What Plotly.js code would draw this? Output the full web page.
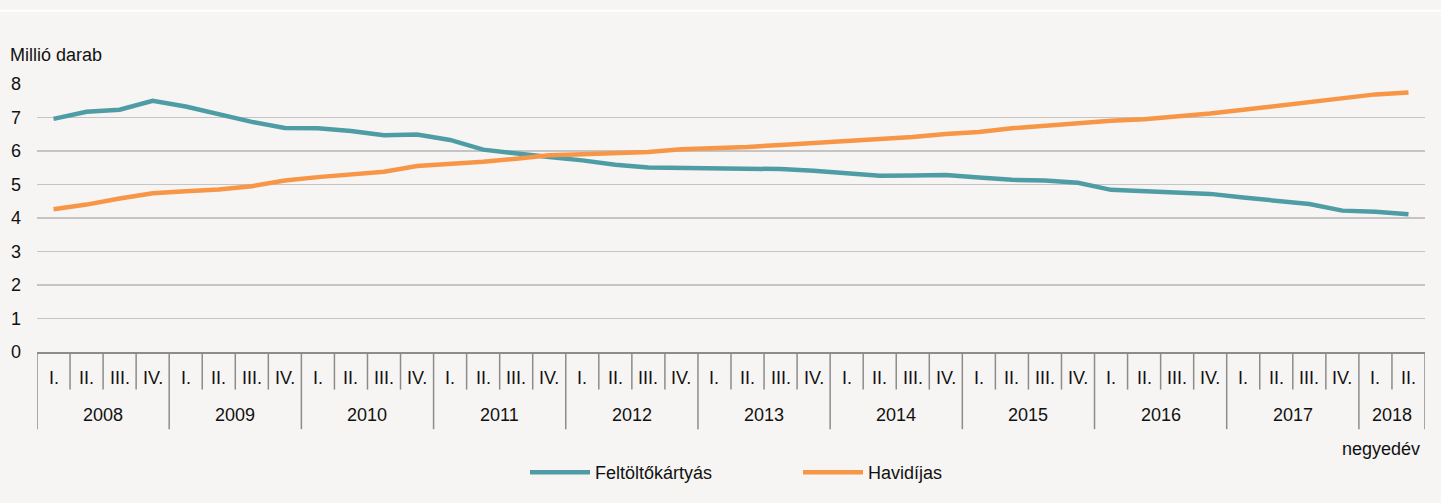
<!DOCTYPE html>
<html>
<head>
<meta charset="utf-8">
<script src="https://cdn.plot.ly/plotly-3.0.1.min.js"></script>
<style>
html,body{margin:0;padding:0;background:#f6f5f3;}
#chart{width:1441px;height:503px;}
</style>
</head>
<body>
<div id="chart"></div>
<script>
const years = ['2008','2009','2010','2011','2012','2013','2014','2015','2016','2017','2018'];
const quarterLabels = ['I.','II.','III.','IV.'];
const quartersPerYear = [4,4,4,4,4,4,4,4,4,4,2];

const feltoltokartyas = [6.96,7.17,7.23,7.50,7.33,7.09,6.87,6.69,6.68,6.60,6.47,6.49,6.33,6.04,
  5.92,5.82,5.72,5.59,5.51,5.50,5.49,5.45,5.46,5.41,5.32,5.26,5.27,
  5.28,5.21,5.14,5.12,5.05,4.84,4.79,4.75,4.72,4.61,4.52,4.42,4.22,4.19,4.11];
const havidijas = [4.26,4.40,4.58,4.74,4.80,4.85,4.95,5.12,5.22,5.29,5.38,5.55,5.61,5.68,
  5.77,5.87,5.90,5.93,5.97,6.05,6.07,6.12,6.18,6.24,6.29,6.34,6.42,
  6.51,6.57,6.68,6.76,6.85,6.90,6.95,7.03,7.12,7.23,7.34,7.45,7.57,7.69,7.75];

const yTitle = 'Millió darab';
const xTitle = 'negyedév';
const seriesNames = ['Feltöltőkártyás','Havidíjas'];

// build categories
const cats = [], catQuarter = [];
years.forEach((y,j)=>{
  for(let q=0;q<quartersPerYear[j];q++){ cats.push(y+' '+quarterLabels[q]); catQuarter.push(quarterLabels[q]); }
});
const n = cats.length;

const W=1441,H=503, L=37, R=16, T=84, B=148;
const pw=W-L-R, ph=H-T-B;
const py = p => (H-B-p)/ph;      // pixel y -> paper y
const px = p => (p-L)/pw;        // pixel x -> paper x

const FONT = '"Liberation Sans",Arial,sans-serif';
const FS = 18;
const txtCol = '#111111';
const axisCol = '#8c8c8c';

const shapes = [];
const annotations = [];
// top white stripe
shapes.push({type:'line',xref:'paper',yref:'paper',x0:px(0),x1:px(W),y0:py(10),y1:py(10),line:{color:'#ffffff',width:2}});
// quarter boundaries and year dividers
let idx=0;
const yearStarts=[];
years.forEach((y,j)=>{ yearStarts.push(idx); idx+=quartersPerYear[j]; });
for(let k=0;k<=n;k++){
  const isYear = yearStarts.includes(k) || k===n;
  shapes.push({type:'line',xref:'x',yref:'paper',x0:k-0.5,x1:k-0.5,y0:py(355),y1:py(isYear?433:393),
    line:{color:axisCol,width:1.5}});
}
// quarter labels
cats.forEach((c,i)=>{
  annotations.push({xref:'x',yref:'paper',x:i,y:py(381),text:catQuarter[i],showarrow:false,
    xanchor:'center',yanchor:'middle',font:{family:FONT,size:FS,color:txtCol}});
});
// year labels
years.forEach((y,j)=>{
  const s=yearStarts[j], e=s+quartersPerYear[j]-1;
  annotations.push({xref:'x',yref:'paper',x:(s+e)/2,y:py(419),text:y,showarrow:false,
    xanchor:'center',yanchor:'middle',font:{family:FONT,size:FS,color:txtCol}});
});
annotations.push({xref:'paper',yref:'paper',x:px(1422),y:py(453),text:xTitle,showarrow:false,
  xanchor:'right',yanchor:'middle',font:{family:FONT,size:FS,color:txtCol}});
annotations.push({xref:'paper',yref:'paper',x:px(8),y:py(55),text:yTitle,showarrow:false,
  xanchor:'left',yanchor:'middle',font:{family:FONT,size:FS,color:txtCol}});

const traces = [
  {x:cats,y:feltoltokartyas,name:seriesNames[0],type:'scatter',mode:'lines',line:{color:'#4f9da4',width:4.5}},
  {x:cats,y:havidijas,name:seriesNames[1],type:'scatter',mode:'lines',line:{color:'#f79646',width:4.5}}
];

const layout = {
  width:W,height:H,
  margin:{l:L,r:R,t:T,b:B,pad:0},
  paper_bgcolor:'#f6f5f3',plot_bgcolor:'#f6f5f3',
  font:{family:FONT,size:FS,color:txtCol},
  showlegend:true,
  legend:{orientation:'h',x:px(525),xanchor:'left',y:py(477),yanchor:'middle',
    font:{family:FONT,size:FS,color:txtCol},bgcolor:'rgba(0,0,0,0)',
    itemwidth:60,entrywidth:198,entrywidthmode:'pixels'},
  xaxis:{type:'category',categoryarray:cats,categoryorder:'array',range:[-0.5,n-0.5],
    showticklabels:false,ticks:'',showgrid:false,zeroline:false,
    showline:true,linecolor:axisCol,linewidth:1.5,fixedrange:true},
  yaxis:{range:[0,8],dtick:1,tick0:0,showgrid:true,gridcolor:'#c4c4c4',gridwidth:1.5,
    zeroline:false,showline:false,ticks:'',ticklabelstandoff:15,
    tickfont:{family:FONT,size:FS,color:txtCol},fixedrange:true},
  shapes:shapes,annotations:annotations,hovermode:false
};

Plotly.newPlot('chart',traces,layout,{displayModeBar:false,staticPlot:true});
</script>
</body>
</html>
